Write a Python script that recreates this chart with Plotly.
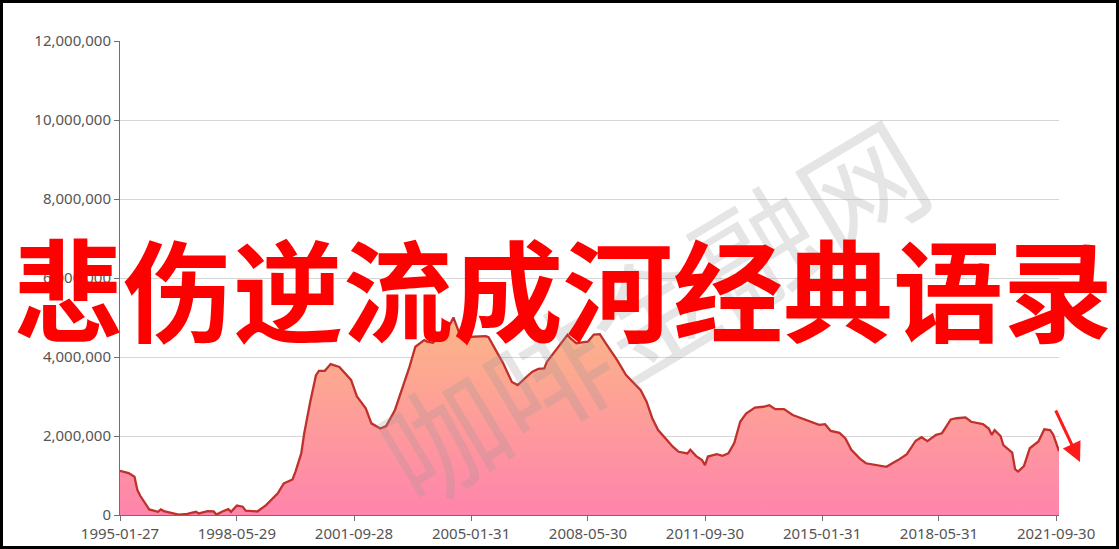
import plotly.graph_objects as go

# ---- data (values in millions) ----
months = [
    "1995-01", "1995-04", "1995-06", "1995-07", "1995-08", "1995-11", "1996-02", "1996-03",
    "1996-04", "1996-09", "1996-12", "1997-03", "1997-04", "1997-07", "1997-09", "1997-10",
    "1997-12", "1998-02", "1998-03", "1998-05", "1998-07", "1998-08", "1998-12", "1999-03",
    "1999-07", "1999-09", "1999-12", "2000-01", "2000-03", "2000-04", "2000-06", "2000-08",
    "2000-09", "2000-11", "2001-01", "2001-04", "2001-08", "2001-10", "2002-01", "2002-03",
    "2002-06", "2002-08", "2002-11", "2003-01", "2003-04", "2003-06", "2003-09", "2003-10",
    "2003-12", "2004-02", "2004-06", "2004-07", "2004-09", "2004-10", "2005-02", "2005-06",
    "2005-07", "2005-12", "2006-03", "2006-05", "2006-08", "2006-10", "2006-12", "2007-02",
    "2007-03", "2007-07", "2007-10", "2007-11", "2008-01", "2008-03", "2008-05", "2008-07",
    "2008-09", "2008-11", "2009-03", "2009-06", "2009-11", "2010-01", "2010-03", "2010-05",
    "2010-07", "2010-10", "2010-12", "2011-03", "2011-04", "2011-06", "2011-08", "2011-09",
    "2011-10", "2012-01", "2012-03", "2012-05", "2012-07", "2012-09", "2012-11", "2013-02",
    "2013-05", "2013-07", "2013-09", "2013-12", "2014-03", "2014-08", "2014-12", "2015-02",
    "2015-04", "2015-07", "2015-09", "2015-11", "2016-02", "2016-04", "2016-07", "2016-09",
    "2016-11", "2017-01", "2017-03", "2017-06", "2017-09", "2017-11", "2018-01", "2018-04",
    "2018-06", "2018-09", "2018-11", "2019-02", "2019-04", "2019-08", "2019-10", "2019-11",
    "2019-12", "2020-02", "2020-03", "2020-06", "2020-07", "2020-08", "2020-10", "2020-12",
    "2021-03", "2021-05", "2021-07", "2021-08", "2021-10",
]
values_m = [
    1.12, 1.06, 0.97, 0.63, 0.48, 0.14, 0.08, 0.14,
    0.10, 0.01, 0.03, 0.08, 0.04, 0.10, 0.09, 0.01,
    0.09, 0.15, 0.08, 0.24, 0.21, 0.11, 0.09, 0.25,
    0.55, 0.80, 0.90, 1.10, 1.56, 2.07, 2.85, 3.54,
    3.65, 3.65, 3.82, 3.75, 3.42, 3.00, 2.70, 2.32,
    2.19, 2.25, 2.66, 3.08, 3.75, 4.26, 4.43, 4.39,
    4.36, 4.51, 4.85, 5.00, 4.60, 4.50, 4.51, 4.53,
    4.50, 3.84, 3.37, 3.29, 3.50, 3.63, 3.70, 3.71,
    3.88, 4.26, 4.56, 4.47, 4.35, 4.37, 4.39, 4.57,
    4.58, 4.35, 3.92, 3.54, 3.16, 2.87, 2.45, 2.15,
    1.98, 1.73, 1.60, 1.56, 1.65, 1.49, 1.39, 1.26,
    1.48, 1.54, 1.50, 1.56, 1.82, 2.36, 2.57, 2.72,
    2.74, 2.78, 2.68, 2.68, 2.53, 2.39, 2.28, 2.30,
    2.13, 2.08, 1.94, 1.65, 1.42, 1.31, 1.27, 1.25,
    1.22, 1.31, 1.39, 1.54, 1.88, 1.97, 1.87, 2.03,
    2.07, 2.42, 2.45, 2.47, 2.36, 2.30, 2.19, 2.03,
    2.15, 2.00, 1.77, 1.58, 1.16, 1.10, 1.24, 1.69,
    1.86, 2.17, 2.15, 2.04, 1.62,
]
tick_labels = ["1995-01-27", "1998-05-29", "2001-09-28", "2005-01-31", "2008-05-30",
               "2011-09-30", "2015-01-31", "2018-05-31", "2021-09-30"]
y_ticks = [0, 2_000_000, 4_000_000, 6_000_000, 8_000_000, 10_000_000, 12_000_000]
title_text = "悲伤逆流成河经典语录"
watermark_text = "咖啡金融网"

x = [m + "-01" for m in months]
y = [v * 1_000_000 for v in values_m]
tick_vals = [t[:7] + "-01" for t in tick_labels]

fig = go.Figure()
fig.add_trace(go.Scatter(
    x=x, y=y, mode="lines", fill="tozeroy",
    line=dict(color="rgb(192,48,44)", width=2.3),
    fillgradient=dict(type="vertical",
                      colorscale=[[0, "rgba(255,126,168,0.95)"],
                                  [1, "rgba(252,178,128,0.95)"]]),
    hoverinfo="skip", showlegend=False,
))

axis_font = dict(family="Noto Sans, DejaVu Sans, sans-serif", size=15, color="#555")
fig.update_layout(
    width=1119, height=549,
    margin=dict(l=120, r=60, t=41, b=34, autoexpand=False),
    paper_bgcolor="white", plot_bgcolor="white",
    xaxis=dict(
        type="date", range=["1995-01-01", "2021-10-01"],
        tickmode="array", tickvals=tick_vals, ticktext=tick_labels,
        showgrid=False, showline=True, linecolor="#6e7079", linewidth=1,
        ticks="outside", ticklen=5, tickcolor="#6e7079",
        tickfont=axis_font, zeroline=False, automargin=False,
    ),
    yaxis=dict(
        range=[0, 12_000_000], tickmode="array", tickvals=y_ticks,
        tickformat=",d", showgrid=True, gridcolor="#d6d6d6", gridwidth=1,
        showline=True, linecolor="#6e7079", linewidth=1,
        ticks="outside", ticklen=5, tickcolor="#6e7079",
        tickfont=axis_font, zeroline=False, automargin=False,
    ),
)

# watermark
fig.add_annotation(
    text=watermark_text, xref="paper", yref="paper",
    x=(650 - 120) / 939, y=(515 - 307) / 474,
    xanchor="center", yanchor="middle", showarrow=False, textangle=-31,
    font=dict(family="Noto Sans CJK SC", size=122, color="rgba(150,150,150,0.25)"),
)

# big red title
fig.add_annotation(
    text=title_text, xref="paper", yref="paper",
    x=(563 - 120) / 939, y=(515 - 286) / 474,
    xanchor="center", yanchor="middle", showarrow=False,
    font=dict(family="Noto Sans CJK SC", size=110, color="#ff0000", weight="bold"),
)

# red arrow
fig.add_annotation(
    text="", xref="paper", yref="paper",
    x=(1080 - 120) / 939, y=(515 - 462) / 474,
    ax=-25, ay=-53, axref="pixel", ayref="pixel",
    showarrow=True, arrowhead=2, arrowsize=1.3, arrowwidth=3, arrowcolor="#ff1a1a",
)

# black frame around the whole picture
fig.add_shape(
    type="rect", xref="paper", yref="paper",
    x0=(0 - 120) / 939, x1=(1119 - 120) / 939,
    y0=(515 - 549) / 474, y1=(515 - 0) / 474,
    line=dict(color="black", width=6), fillcolor="rgba(0,0,0,0)", layer="above",
)

fig.write_html("out.html", config={"displayModeBar": False},
               post_script="document.body.style.margin='0';document.body.style.overflow='hidden';")
